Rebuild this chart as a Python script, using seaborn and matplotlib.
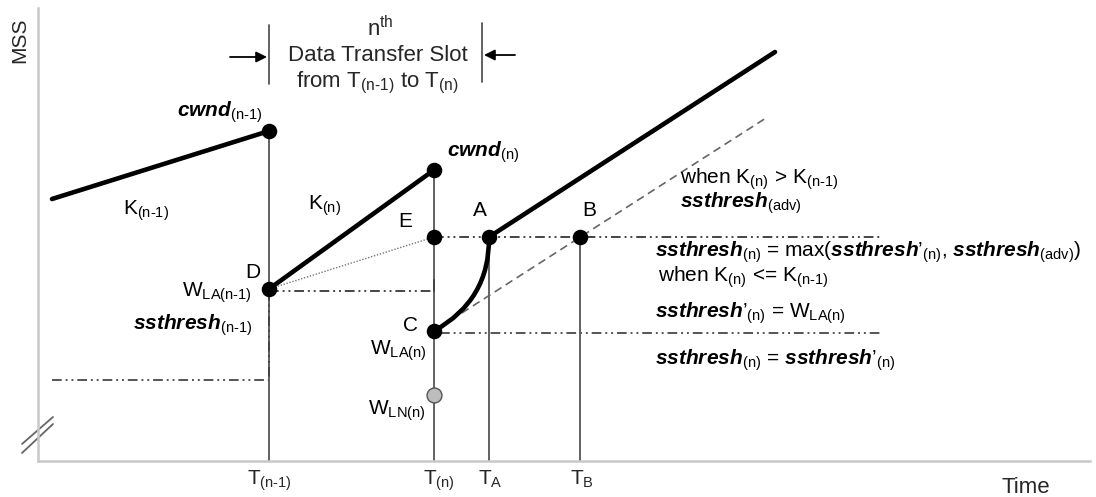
import matplotlib
matplotlib.use("Agg")
import matplotlib.pyplot as plt
from matplotlib.path import Path
from matplotlib.patches import PathPatch
import seaborn as sns

# ---------------- data (schematic coordinates: x = time, y = window level, y grows downward) -------------
# key time instants
time_labels = ["T", "T", "T", "T"]
time_subs = ["(n-1)", "(n)", "A", "B"]
time_x = [269, 434, 489, 580]
time_top = [131, 170, 237, 237]

# named points
point_names = ["cwnd(n-1)", "D", "cwnd(n)", "E", "A", "B", "C"]
point_x = [269, 269, 434, 434, 489, 580, 434]
point_y = [131, 289, 170, 237, 237, 237, 331]
wln_x = [434]
wln_y = [395]

# congestion window growth segments
k_prev_x = [52, 269]
k_prev_y = [199, 131]
k_n_x = [269, 434]
k_n_y = [289, 170]
k_after_x = [489, 775]
k_after_y = [237, 52]
# slow start curve C -> A (quadratic bezier control points)
curve_x = [434, 490, 489]
curve_y = [331, 300, 237]
# reference (dashed) growth line through C and B
ref_x = [440, 766]
ref_y = [327, 118]
# dotted line D -> E
de_x = [269, 434]
de_y = [289, 237]

# threshold levels (dash-dot-dot)
lvl_adv_x = [434, 880]
lvl_adv_y = [237, 237]
lvl_d_x = [269, 434]
lvl_d_y = [291, 291]
lvl_c_x = [440, 882]
lvl_c_y = [333, 333]
lvl_prev_x = [52, 269]
lvl_prev_y = [380, 380]

# ---------------- figure ----------------
W, H = 1096, 497
sns.set_theme(style="white")
plt.rcParams["font.family"] = ["Liberation Sans", "DejaVu Sans"]
plt.rcParams["mathtext.fontset"] = "custom"
plt.rcParams["mathtext.rm"] = "Liberation Sans"
plt.rcParams["mathtext.it"] = "Liberation Sans:italic"
plt.rcParams["mathtext.bf"] = "Liberation Sans:bold"
plt.rcParams["mathtext.bfit"] = "Liberation Sans:bold:italic"
plt.rcParams["mathtext.sf"] = "Liberation Sans"

fig = plt.figure(figsize=(W / 100, H / 100), dpi=100)
ax = fig.add_axes([38 / W, (H - 461) / H, (1090 - 38) / W, (461 - 8) / H])
ax.set_xlim(38, 1090)
ax.set_ylim(461, 8)
ax.set_xticks([])
ax.set_yticks([])
for s in ["top", "right"]:
    ax.spines[s].set_visible(False)
for s in ["left", "bottom"]:
    ax.spines[s].set_color("#c8c8c8")
    ax.spines[s].set_linewidth(1.8)

DDOT = (0, (5, 2, 1, 2, 1, 2))


def seg(xs, ys, **kw):
    sns.lineplot(x=xs, y=ys, ax=ax, sort=False, estimator=None, clip_on=False, **kw)


# vertical time lines
for tx, tt in zip(time_x, time_top):
    seg([tx, tx], [tt, 461], color="#555555", lw=1.3, zorder=2)
# bracket bars
seg([269, 269], [25, 84], color="#555555", lw=1.3)
seg([482, 482], [23, 82], color="#555555", lw=1.3)

# threshold levels
seg(lvl_adv_x, lvl_adv_y, color="#444444", lw=1.4, linestyle=DDOT, zorder=2)
seg(lvl_d_x, lvl_d_y, color="#444444", lw=1.4, linestyle=DDOT, zorder=2)
seg(lvl_c_x, lvl_c_y, color="#555555", lw=1.4, linestyle=DDOT, zorder=2)
seg(lvl_prev_x, lvl_prev_y, color="#555555", lw=1.4, linestyle=DDOT, zorder=2)
seg([269, 269], [291, 380], color="#444444", lw=1.4, linestyle=DDOT, zorder=2)
seg([434, 434], [291, 280], color="#444444", lw=1.4, zorder=2)

# reference dashed and dotted lines
seg(ref_x, ref_y, color="#666666", lw=1.2, linestyle=(0, (4.8, 3)), zorder=2)
seg(de_x, de_y, color="#777777", lw=1.0, linestyle=(0, (1, 1.2)), zorder=2)

# thick cwnd lines
for xs, ys in [(k_prev_x, k_prev_y), (k_n_x, k_n_y), (k_after_x, k_after_y)]:
    seg(xs, ys, color="black", lw=3.3, solid_capstyle="round", zorder=3)
curve = Path(list(zip(curve_x, curve_y)), [Path.MOVETO, Path.CURVE3, Path.CURVE3])
ax.add_patch(PathPatch(curve, facecolor="none", edgecolor="black", lw=3.3, zorder=3, clip_on=False))

# points
sns.scatterplot(x=point_x, y=point_y, ax=ax, s=125, color="black", linewidth=0, zorder=5, clip_on=False)
sns.scatterplot(x=wln_x, y=wln_y, ax=ax, s=115, color="#bdbdbd", edgecolor="#555555", linewidth=1.0,
                zorder=5, clip_on=False)

# axis break marks
seg([22, 53], [444, 417], color="#666666", lw=1.3)
seg([22, 53], [453, 424], color="#666666", lw=1.3)

# bracket arrows
arrow = dict(arrowstyle="-|>", color="black", lw=1.3, mutation_scale=16, shrinkA=0, shrinkB=0)
ax.annotate("", xy=(267, 57), xytext=(230, 57), arrowprops=arrow, annotation_clip=False)
ax.annotate("", xy=(484, 55), xytext=(515, 55), arrowprops=arrow, annotation_clip=False)


def _fix(s):
    # keep a short hyphen instead of a spaced minus sign
    return s.replace("-", "\u2010")


def sub(s):
    return r"$_{\mathrm{" + _fix(s) + r"}}$"


def bi(word, s):
    return r"$\mathbfit{" + word + r"}_{\mathrm{" + _fix(s) + r"}}$"


FS = 15
texts = [
    (bi("cwnd", "(n-1)"), 177, 117),
    ("K" + sub("(n-1)"), 123, 215),
    (bi("cwnd", "(n)"), 447, 157),
    ("K" + sub("(n)"), 308, 210),
    ("E", 398, 227),
    ("A", 473, 216),
    ("B", 582, 216),
    ("D", 245, 278),
    ("W" + sub("LA(n-1)"), 182, 297),
    (bi("ssthresh", "(n-1)"), 133, 330),
    ("C", 403, 331),
    ("W" + sub("LA(n)"), 370, 355),
    ("W" + sub("LN(n)"), 368, 415),
    ("when K" + sub("(n)") + " > K" + sub("(n-1)"), 680, 184),
    (bi("ssthresh", "(adv)"), 680, 208),
    (bi("ssthresh", "(n)") + " = max(" + r"$\mathbfit{ssthresh}$" + "\u2019" + sub("(n)") + ", "
     + bi("ssthresh", "(adv)") + ")", 655, 257),
    ("when K" + sub("(n)") + " <= K" + sub("(n-1)"), 658, 282),
    (r"$\mathbfit{ssthresh}$" + "\u2019" + sub("(n)") + " = W" + sub("LA(n)"), 655, 318),
    (bi("ssthresh", "(n)") + " = " + r"$\mathbfit{ssthresh}$" + "\u2019" + sub("(n)"), 655, 365),
]
for s, x, y in texts:
    ax.text(x, y, s, fontsize=FS, ha="left", va="baseline", color="black", clip_on=False)

# time tick labels
time_label_x = [247, 423, 478, 570]
for lab, sb, x in zip(time_labels, time_subs, time_label_x):
    ax.text(x, 485, lab + sub(sb), fontsize=FS, ha="left", va="baseline", clip_on=False)

# slot header
ax.text(380, 36, "n" + r"$^{\mathrm{th}}$", fontsize=16, ha="center", va="baseline", clip_on=False)
ax.text(378, 61, "Data Transfer Slot", fontsize=16, ha="center", va="baseline", clip_on=False)
ax.text(377, 87, "from T" + sub("(n-1)") + " to T" + sub("(n)"), fontsize=16, ha="center",
        va="baseline", clip_on=False)

# axis titles
ax.text(1002, 493, "Time", fontsize=16, ha="left", va="baseline", clip_on=False)
ax.text(20, 40, "MSS", fontsize=15, rotation=90, ha="center", va="center", clip_on=False)

fig.savefig("out.png", dpi=100)
